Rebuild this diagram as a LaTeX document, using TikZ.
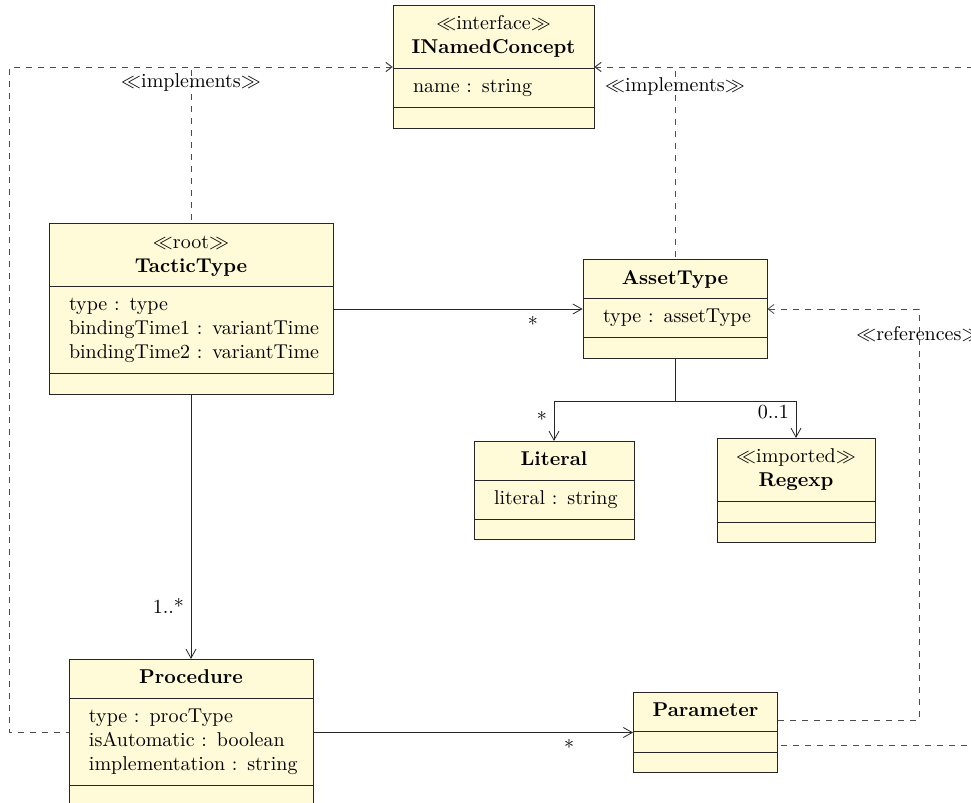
\documentclass[tikz,border=0pt]{standalone}
\usepackage{tikz}
\usetikzlibrary{
  arrows,
  arrows.meta,
  positioning,
  shapes,
  shapes.multipart,
}
\definecolor{classfill}{RGB}{255, 250, 215}
\tikzstyle{umlclass} = [
  rectangle split,
  rectangle split parts=3,
  draw=black!85,
  fill=classfill,
  inner xsep=10pt,
  inner ysep=3.5pt,
  font=\normalsize,
]
\tikzstyle{assoc} = [
  -{Straight Barb[length=4.5pt,width=5pt]},
  black!85,
]
% realizations are drawn from the interface outwards, so shared parts keep one dash phase
\tikzstyle{impl} = [
  {Straight Barb[length=3pt,width=4.5pt]}-,
  dashed,
  black!70,
  text=black,
]
\tikzstyle{dep} = [
  -{Straight Barb[length=3pt,width=4.5pt]},
  dashed,
  black!70,
  text=black,
]
\tikzstyle{mult} = [
  pos=0.8,
  font=\normalsize,
  text=black,
]
\newcommand{\stereo}[1]{$\ll$#1$\gg$}
\newcommand{\umlhead}[1]{\makebox[\linewidth][c]{\begin{tabular}{@{}c@{}}#1\end{tabular}}}
\newcommand{\umlattr}[1]{\begin{tabular}{@{}l@{}}#1\end{tabular}}
\newcommand{\umlnone}{\rule{0pt}{3pt}}

\begin{document}
\begin{tikzpicture}[x=1pt,y=1pt]

        \clip (0,0) rectangle (485.5,-401.5);

        % classes
        \node[umlclass,text width=80.5pt] (inamed) at (246.75,-33.5) {\umlhead{\stereo{interface}\\\textbf{INamedConcept}}
          \nodepart{two}\umlattr{name : string}
          \nodepart{three}\umlnone};
        \node[umlclass,text width=122pt] (tactic) at (95.5,-154.5) {\umlhead{\stereo{root}\\\textbf{TacticType}}
          \nodepart{two}\umlattr{type : type\\bindingTime1 : variantTime\\bindingTime2 : variantTime}
          \nodepart{three}\umlnone};
        \node[umlclass,text width=72pt] (asset) at (337.5,-154.5) {\umlhead{\textbf{AssetType}}
          \nodepart{two}\umlattr{type : assetType}
          \nodepart{three}\umlnone};
        \node[umlclass,text width=60pt] (literal) at (277,-245.25) {\umlhead{\textbf{Literal}}
          \nodepart{two}\umlattr{literal : string}
          \nodepart{three}\umlnone};
        \node[umlclass,text width=59pt] (regexp) at (398,-245.25) {\umlhead{\stereo{imported}\\\textbf{Regexp}}
          \nodepart{two}\umlnone
          \nodepart{three}\umlnone};
        \node[umlclass,text width=102pt] (proc) at (95.5,-366.25) {\umlhead{\textbf{Procedure}}
          \nodepart{two}\umlattr{type : procType\\isAutomatic : boolean\\implementation : string}
          \nodepart{three}\umlnone};
        \node[umlclass,text width=52pt] (param) at (352.75,-366.25) {\umlhead{\textbf{Parameter}}
          \nodepart{two}\umlnone
          \nodepart{three}\umlnone};

        % associations
        \draw[assoc] (tactic) -- node[mult,below] {*} (asset);
        \draw[assoc] (tactic) -- node[mult,left] {1..*} (proc);
        \draw[assoc] (proc) -- node[mult,below] {*} (param);
        \draw[assoc] (asset.south) -- ++(0,-21.5) -| node[mult,pos=0.72,left] {*} (literal.north);
        \draw[assoc] (asset.south) -- ++(0,-21.5) -| node[mult,pos=0.64,left] {0..1} (regexp.north);

        % realizations and dependency
        \draw[impl] (inamed.west) -| node[pos=0.55] {\stereo{implements}} (tactic.north);
        \draw[impl] (inamed.west) -- ++(-191.5,0) |- (proc.west);
        \draw[impl] (inamed.east) -| node[pos=0.55] {\stereo{implements}} (asset.north);
        \draw[impl] (inamed.east) -- ++(203,0) |- ([yshift=-6.25pt]param.east);
        \draw[dep] ([yshift=6.25pt]param.east) -- ++(70.5,0) |- node[pos=0.47] {\stereo{references}} (asset.east);

      \end{tikzpicture}
\end{document}
